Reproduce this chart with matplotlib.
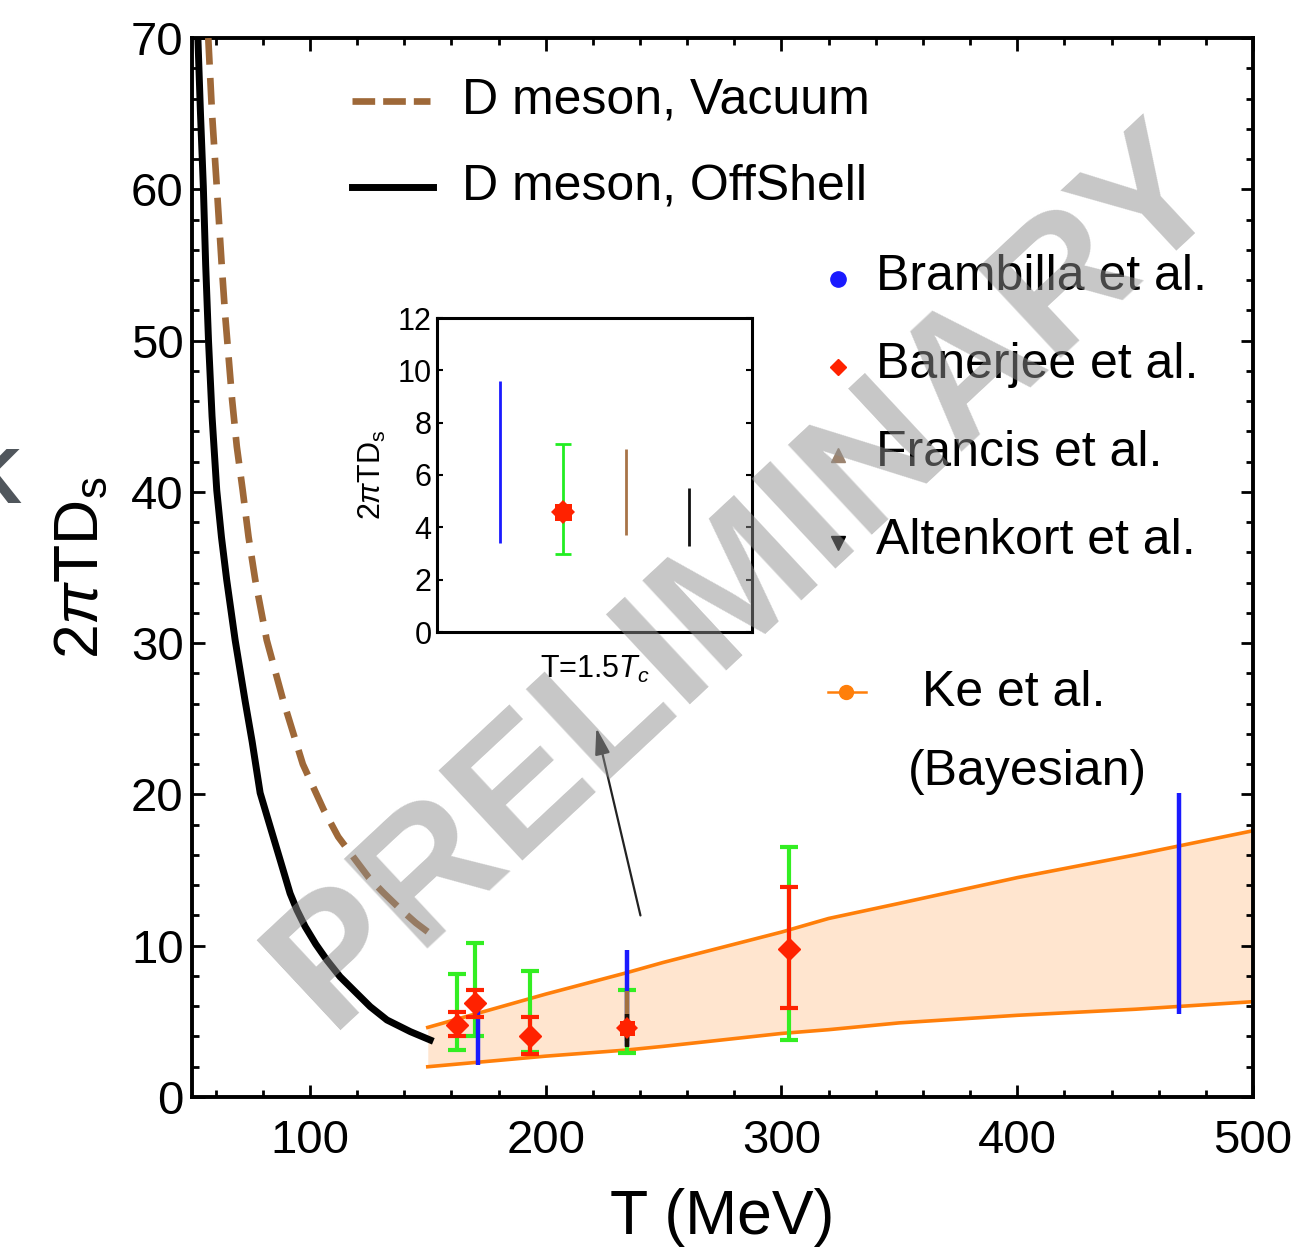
import matplotlib
matplotlib.use("Agg")
import matplotlib.pyplot as plt
from matplotlib.lines import Line2D

plt.rcParams["font.family"] = ["Liberation Sans", "DejaVu Sans"]
plt.rcParams["mathtext.fontset"] = "custom"
plt.rcParams["mathtext.rm"] = "Liberation Sans"
plt.rcParams["mathtext.it"] = "Liberation Sans:italic"

# D meson curves (T in MeV, 2 pi T D_s)
vac_T = [56.9, 58.5, 60.5, 62.6, 64.0, 67.0, 69.0, 71.5, 74.0, 76.8, 81.7, 88.7, 97.0,
         105.8, 112.0, 119.2, 125.0, 131.2, 138.5, 145.0, 151.0]
vac_D = [70.0, 65.0, 60.2, 55.0, 51.8, 46.1, 43.0, 40.1, 37.0, 34.2, 30.2, 26.2, 22.0,
         19.0, 17.2, 15.7, 14.5, 13.5, 12.4, 11.5, 10.8]
off_T = [52.5, 53.6, 54.8, 55.8, 57.0, 58.5, 60.5, 62.5, 64.7, 68.3, 72.5, 75.5, 78.9,
         83.1, 87.4, 91.6, 94.5, 98.0, 102.5, 107.2, 112.8, 119.9, 125.6, 132.7, 142.6, 151.0]
off_D = [70.0, 65.0, 60.2, 55.0, 50.0, 45.0, 40.1, 37.0, 34.2, 30.2, 26.2, 23.5, 20.1,
         17.9, 15.66, 13.46, 12.36, 11.26, 10.1, 9.05, 7.95, 6.85, 5.97, 5.09, 4.32, 3.77]

# Ke et al. (Bayesian) band
ke_T = [150, 175, 200, 234, 250, 300, 320, 350, 400, 450, 500]
ke_up = [4.6, 5.7, 6.8, 8.2, 8.9, 10.9, 11.8, 12.8, 14.5, 16.0, 17.6]
ke_lo = [2.0, 2.35, 2.7, 3.1, 3.35, 4.2, 4.45, 4.9, 5.4, 5.8, 6.3]

# Brambilla et al.
bra_T = [171.4, 234.3, 468.8]
bra_lo = [2.1, 3.4, 5.5]
bra_hi = [6.6, 9.7, 20.1]

# Banerjee et al. (stat. red, total green)
ban_T = [162.4, 170.2, 193.5, 303.0]
ban_D = [4.76, 6.2, 4.0, 9.8]
ban_stat_lo = [4.0, 5.3, 2.85, 5.9]
ban_stat_hi = [5.6, 7.1, 5.3, 13.9]
ban_tot_lo = [3.1, 4.0, 3.0, 3.8]
ban_tot_hi = [8.1, 10.2, 8.3, 16.5]

# point at T = 1.5 Tc
tc_T = [234.3]
tc_D = [4.55]
tc_lo = [2.9]
tc_hi = [7.1]

# Francis et al. / Altenkort et al.
fra_T = [234.3]
fra_lo = [3.7]
fra_hi = [7.0]
alt_T = [234.3]
alt_lo = [3.3]
alt_hi = [5.5]

# inset, T = 1.5 Tc
inset_x = [1, 2, 3, 4]
inset_mid = [6.5, 4.6, 5.3, 4.4]
inset_lo = [3.4, 3.0, 3.7, 3.3]
inset_hi = [9.6, 7.2, 7.0, 5.5]
inset_colors = ["#1a1aff", "#22ee22", "#a87448", "#111111"]

BLUE = "#1a1aff"
RED = "#ff2200"
GREEN = "#33ee22"
BROWN = "#9e6838"
ORANGE = "#ff7f0a"
FILL = "#ffe5cf"

W, H = 1306, 1255
fig = plt.figure(figsize=(W / 100, H / 100), dpi=100)
ax = fig.add_axes([192 / W, 1 - 1097 / H, (1253 - 192) / W, (1097 - 38) / H])


def fx(px):
    return px / W


def fy(py):
    return 1 - py / H


def blob(axis, x, y, ms, **kw):
    # eight-point star: a square and a diamond on top of each other
    axis.plot(x, y, marker="s", color=RED, ms=ms * 0.72, ls="none", mew=0, **kw)
    axis.plot(x, y, marker="D", color=RED, ms=ms * 0.72, ls="none", mew=0, **kw)


# band
ax.fill_between(ke_T, ke_lo, ke_up, color=FILL, lw=0, zorder=1)
ax.plot(ke_T, ke_up, color=ORANGE, lw=2.6, zorder=2)
ax.plot(ke_T, ke_lo, color=ORANGE, lw=2.6, zorder=2)

# curves
ax.plot(vac_T, vac_D, color=BROWN, lw=4.8, dashes=(4.0, 2.0), zorder=3)
ax.plot(off_T, off_D, color="black", lw=5, zorder=3)


def err(lo, hi, mid):
    return [[m - l for m, l in zip(mid, lo)], [h - m for m, h in zip(mid, hi)]]


ax.errorbar(ban_T, ban_D, yerr=err(ban_tot_lo, ban_tot_hi, ban_D), fmt="none",
            ecolor=GREEN, elinewidth=3, capsize=6.5, capthick=3, zorder=4)
ax.errorbar(tc_T, tc_D, yerr=err(tc_lo, tc_hi, tc_D), fmt="none",
            ecolor=GREEN, elinewidth=3, capsize=6.5, capthick=3, zorder=4)
ax.vlines(bra_T, bra_lo, bra_hi, color=BLUE, lw=3.2, zorder=5)
ax.vlines(fra_T, fra_lo, fra_hi, color="#a3703f", lw=3.2, zorder=5)
ax.vlines(alt_T, alt_lo, alt_hi, color="#1a1208", lw=3.2, zorder=6)
ax.errorbar(ban_T, ban_D, yerr=err(ban_stat_lo, ban_stat_hi, ban_D), fmt="D",
            color=RED, ms=11, elinewidth=3, capsize=6.5, capthick=3, zorder=7)
blob(ax, tc_T, tc_D, 15, zorder=7)

ax.set_xlim(50, 500)
ax.set_ylim(0, 70)
ax.set_xticks([100, 200, 300, 400, 500])
ax.set_xticks(range(60, 500, 20), minor=True)
ax.set_yticks(range(0, 71, 10))
ax.set_yticks(range(0, 71, 2), minor=True)
ax.tick_params(which="both", direction="in", top=True, right=True, width=2, labelsize=34)
ax.tick_params(which="major", length=9)
ax.tick_params(which="minor", length=5)
ax.tick_params(axis="x", pad=16)
ax.tick_params(axis="y", pad=6)
for s in ax.spines.values():
    s.set_linewidth(2.8)
ax.set_xlabel("T (MeV)", fontsize=45, labelpad=18)
ax.set_ylabel(r"2$\pi$TD$_\mathrm{s}$", fontsize=45, labelpad=14)

# arrow to the inset
ax.annotate("", xy=(221.5, 24.4), xytext=(240.2, 12.0),
            arrowprops=dict(arrowstyle="-|>,head_length=1.6,head_width=0.45",
                            color="#222222", lw=1.6, shrinkA=0, shrinkB=0), zorder=8)

# legends drawn by hand
fig.add_artist(Line2D([fx(352), fx(430)], [fy(101), fy(101)], color=BROWN, lw=4.8,
                      dashes=(3.4, 1.2)))
fig.add_artist(Line2D([fx(352), fx(433)], [fy(187), fy(187)], color="black", lw=5))
fig.text(fx(462), fy(113), "D meson, Vacuum", fontsize=36, va="baseline")
fig.text(fx(462), fy(200), "D meson, OffShell", fontsize=36, va="baseline")

leg_markers = [("o", BLUE, 11), ("D", RED, 8.5), ("^", "#9c8470", 10), ("v", "black", 10)]
leg_labels = ["Brambilla et al.", "Banerjee et al.", "Francis et al.", "Altenkort et al."]
for i, ((mk, col, ms), lab) in enumerate(zip(leg_markers, leg_labels)):
    yb = 290 + 88 * i
    fig.add_artist(Line2D([fx(838)], [fy(yb - 11)], marker=mk, color=col, ms=ms, ls="none"))
    fig.text(fx(876), fy(yb), lab, fontsize=36, va="baseline")

fig.add_artist(Line2D([fx(828), fx(866)], [fy(692), fy(692)], color=ORANGE, lw=1.8))
fig.add_artist(Line2D([fx(846)], [fy(692)], color=ORANGE, marker="o", ms=10, ls="none"))
fig.text(fx(922), fy(706), "Ke et al.", fontsize=36, va="baseline")
fig.text(fx(908), fy(785), "(Bayesian)", fontsize=36, va="baseline")

# inset
axi = fig.add_axes([437 / W, 1 - 632 / H, 315 / W, 314 / H])
for x, m, lo, hi, c in zip(inset_x, inset_mid, inset_lo, inset_hi, inset_colors):
    if c == "#22ee22":
        axi.errorbar([x], [m], yerr=[[m - lo], [hi - m]], fmt="none", ecolor=c,
                     elinewidth=2, capsize=6, capthick=2)
        blob(axi, [x], [m], 17, zorder=5)
    else:
        axi.vlines([x], [lo], [hi], color=c, lw=2)
axi.set_xlim(0, 5)
axi.set_ylim(0, 12)
axi.set_xticks([])
axi.set_yticks(range(0, 13, 2))
axi.tick_params(direction="in", right=True, length=4, width=1.5, labelsize=22, pad=4)
for s in axi.spines.values():
    s.set_linewidth(2.2)
axi.set_ylabel(r"2$\pi$TD$_\mathrm{s}$", fontsize=22, labelpad=7)
axi.set_xlabel(r"T=1.5$T_c$", fontsize=22, labelpad=16)

# watermark
fig.text(fx(746), fy(577), "PRELIMINARY", fontsize=129, fontweight="bold",
         color="#8f8f8f", alpha=0.5, rotation=43, ha="center", va="center",
         rotation_mode="anchor", zorder=20)

# clipped letter at the left edge
fig.text(fx(22), fy(503), "K", fontsize=56, fontweight="bold", color="#50565c",
         ha="right", va="baseline")

fig.savefig("out.png", dpi=100)
